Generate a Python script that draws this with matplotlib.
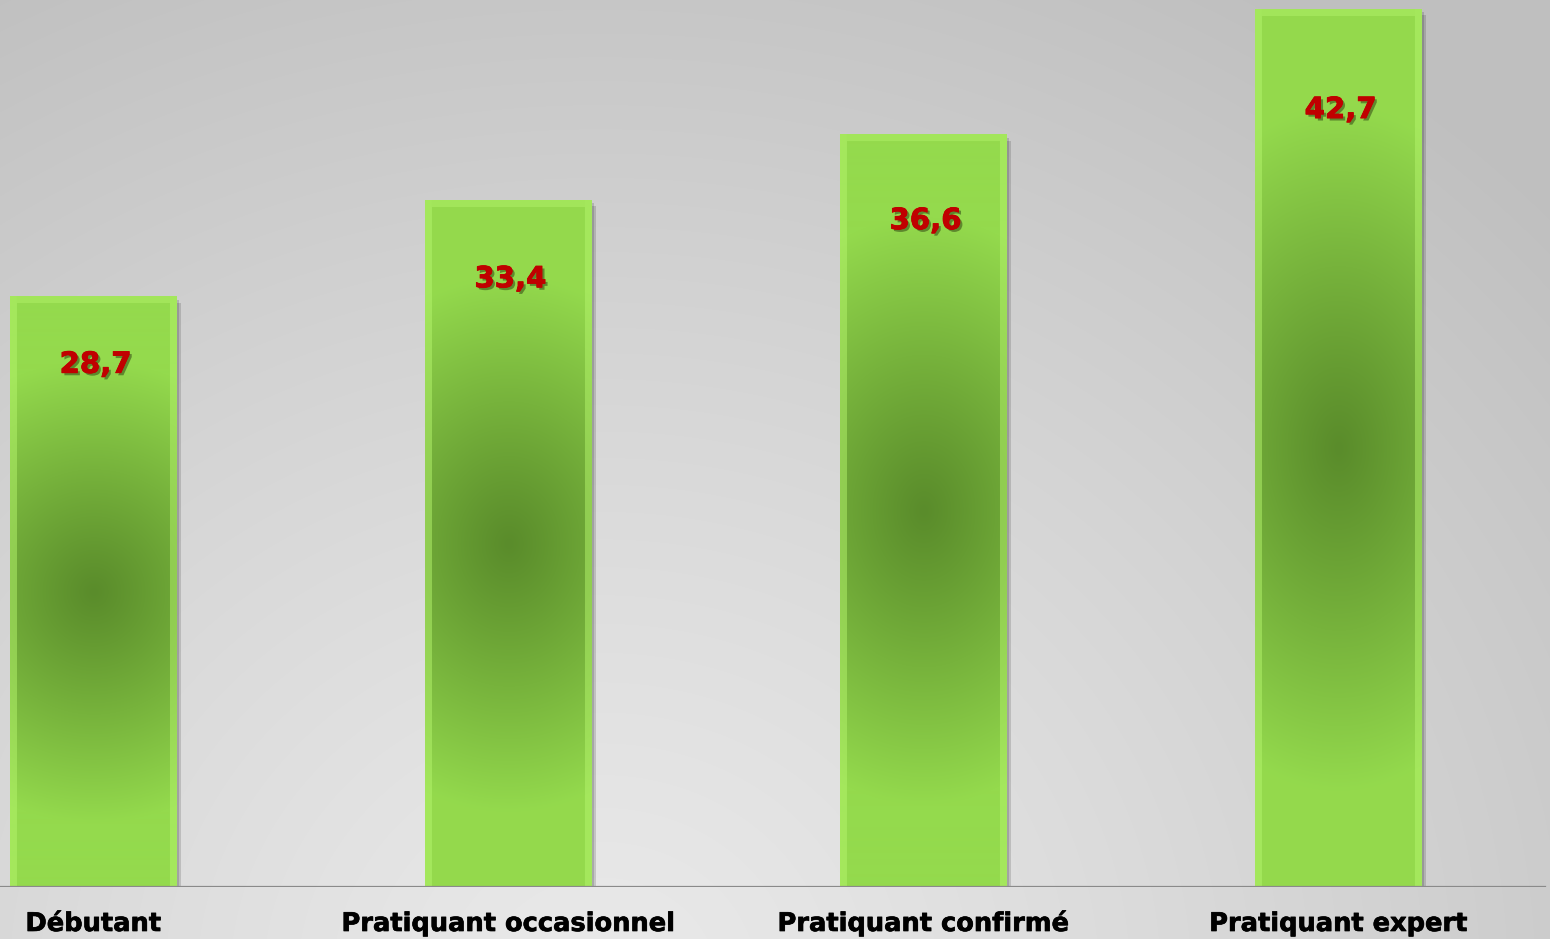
import numpy as np
import matplotlib.pyplot as plt
import matplotlib.patheffects as pe
from matplotlib.colors import to_rgb
from matplotlib.patches import Rectangle

# Données
categories = ['Débutant', 'Pratiquant occasionnel', 'Pratiquant confirmé', 'Pratiquant expert']
valeurs = [28.7, 33.4, 36.6, 42.7]
etiquettes = ['28,7', '33,4', '36,6', '42,7']

W, H, DPI = 1550, 939, 100
fig = plt.figure(figsize=(W / DPI, H / DPI), dpi=DPI)

# Fond dégradé (clair en bas, plus sombre en haut et à droite)
bg = fig.add_axes([0, 0, 1, 1])
yy, xx = np.mgrid[0:H, 0:W]
d = np.sqrt(((xx - 600) / 1300.0) ** 2 + ((yy - 980) / 1150.0) ** 2)
d = np.clip(d, 0, 1)
light, dark = 0.915, 0.75
g = light + (dark - light) * d ** 1.2
bg.imshow(np.dstack([g, g, g]), extent=[0, 1, 0, 1], aspect='auto', origin='upper')
bg.set_axis_off()

# Axes principal
base_px = 887
ax = fig.add_axes([0, (H - base_px) / H, 1, base_px / H])
ax.patch.set_alpha(0)
px_per_unit = 20.56
ax.set_ylim(0, base_px / px_per_unit)
ax.set_xlim(-0.225, (W - 93.5) / 415)
largeur = 0.40

c_dark = np.array(to_rgb('#5a8c2b'))
c_light = np.array(to_rgb('#94da4d'))
c_bevel = np.array(to_rgb('#b4f46c'))

for i, v in enumerate(valeurs):
    x0 = i - largeur / 2
    # ombre
    ax.add_patch(Rectangle((x0 + 0.012, -0.3), largeur, v, facecolor='black',
                           alpha=0.14, edgecolor='none', zorder=1))
    ax.add_patch(Rectangle((x0 + 0.006, -0.15), largeur, v, facecolor='black',
                           alpha=0.14, edgecolor='none', zorder=1))
    # dégradé de la barre
    nx = 167
    ny = int(round(v * px_per_unit))
    yb, xb = np.mgrid[0:ny, 0:nx]
    fy = np.abs(yb - ny / 2) / (ny / 2)
    fx = np.abs(xb - nx / 2) / (nx / 2)
    r = np.sqrt((fy / 0.78) ** 2 + (fx / 2.6) ** 2)
    t = np.clip(r, 0, 1) ** 1.1
    img = c_dark[None, None, :] + (c_light - c_dark)[None, None, :] * t[..., None]
    # biseau
    bev = 7
    edge = (xb < bev) | (xb >= nx - bev)
    top = yb < bev
    img[edge] = img[edge] * 0.5 + c_bevel * 0.5
    img[top & ~edge] = img[top & ~edge] * 0.55 + c_bevel * 0.45
    ax.imshow(img, extent=[x0, x0 + largeur, 0, v], origin='upper',
              aspect='auto', zorder=2, interpolation='bilinear')
    ax.bar(i, v, width=largeur, color='none', edgecolor='none', zorder=3)

    ax.text(i + 0.005, v * 0.885, etiquettes[i], ha='center', va='center',
            fontsize=21, fontweight='bold', color='#c00000', zorder=5,
            path_effects=[pe.withSimplePatchShadow(offset=(1.8, -1.8),
                                                   shadow_rgbFace='#2a3a10', alpha=0.5),
                          pe.withStroke(linewidth=0.6, foreground='#c00000')])

    # libellés de catégories (même ligne de base)
    ax.text(i, -44 / px_per_unit, categories[i], ha='center', va='baseline',
            fontsize=18.5, fontweight='bold', color='black', clip_on=False,
            path_effects=[pe.withStroke(linewidth=0.5, foreground='black')])

ax.axhline(0, xmin=0, xmax=1545 / W, color='#8a8a8a', lw=1.6, zorder=4)
ax.set_xticks([])
ax.set_yticks([])
for s in ax.spines.values():
    s.set_visible(False)

fig.savefig('out.png', dpi=DPI)
